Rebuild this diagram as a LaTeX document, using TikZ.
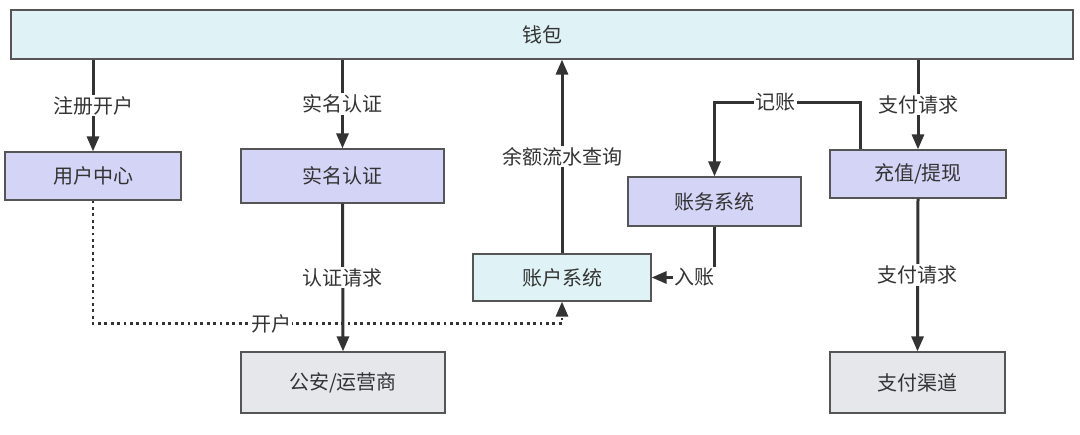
\documentclass[tikz,border=0pt]{standalone}
\usepackage{fontspec}
\newfontfamily\cjk{Noto Sans CJK SC}
\usetikzlibrary{arrows.meta}

\definecolor{walletfill}{RGB}{223,242,245}
\definecolor{svcfill}{RGB}{212,212,246}
\definecolor{extfill}{RGB}{229,231,235}
\definecolor{boxline}{RGB}{85,85,85}
\definecolor{ink}{RGB}{51,51,51}

\begin{document}
\begin{tikzpicture}[
    x=1pt, y=-1pt, % pixel grid of the original
    font=\cjk\fontsize{20}{24}\selectfont,
    text=ink,
    box/.style={draw=boxline, line width=1.2pt, inner sep=0pt},
    wallet/.style={box, fill=walletfill},
    svc/.style={box, fill=svcfill},
    ext/.style={box, fill=extfill},
    flow/.style={draw=ink, line width=3pt, -{Triangle[length=15pt,width=12pt]}},
    link/.style={draw=ink, line width=2.8pt, dash pattern=on 2.8pt off 3.6pt, -{Triangle[length=15pt,width=12pt]}},
    lbl/.style={fill=white, inner sep=1.5pt, text=ink}
]
\useasboundingbox (0,0) rectangle (1080,435);

% Wallet
\node[wallet, minimum width=1062pt, minimum height=49pt] (wallet) at (542,34.5) {钱包};

% Services
\node[svc, minimum width=176pt, minimum height=48pt] (user) at (93,176) {用户中心};
\node[svc, minimum width=203pt, minimum height=54pt] (realname) at (342.5,176) {实名认证};
\node[svc, minimum width=173pt, minimum height=49pt] (ledger) at (714.5,201.5) {账务系统};
\node[svc, minimum width=176pt, minimum height=48pt] (charge) at (918,174) {充值/提现};
\node[wallet, minimum width=178pt, minimum height=47pt] (account) at (562,277.5) {账户系统};

% External parties
\node[ext, minimum width=204pt, minimum height=61pt] (police) at (343,382.5) {公安/运营商};
\node[ext, minimum width=175pt, minimum height=61pt] (channel) at (917.5,382.5) {支付渠道};

% Connectors
\draw[flow] (wallet.south -| user.north) -- node[lbl] {注册开户} (user.north);
\draw[flow] (wallet.south -| realname.north) -- node[lbl] {实名认证} (realname.north);
\draw[flow] (account.north) -- node[lbl] {余额流水查询} (wallet.south -| account.north);
\draw[flow] (wallet.south -| charge.north) -- node[lbl] {支付请求} (charge.north);
\draw[flow] ([xshift=-58pt]charge.north) -- ++(0,-47) -| node[lbl, pos=0.29] {记账} (ledger.north);
\draw[flow] (ledger.south) |- node[lbl, pos=0.66] {入账} (account.east);
\draw[flow] (realname.south) -- node[lbl] {认证请求} (police.north);
\draw[flow] (charge.south) -- node[lbl] {支付请求} (channel.north);
\draw[link] (user.south) -- ++(0,123) -| node[lbl, pos=0.19, inner sep=0.5pt] {开户} (account.south);

\end{tikzpicture}
\end{document}
